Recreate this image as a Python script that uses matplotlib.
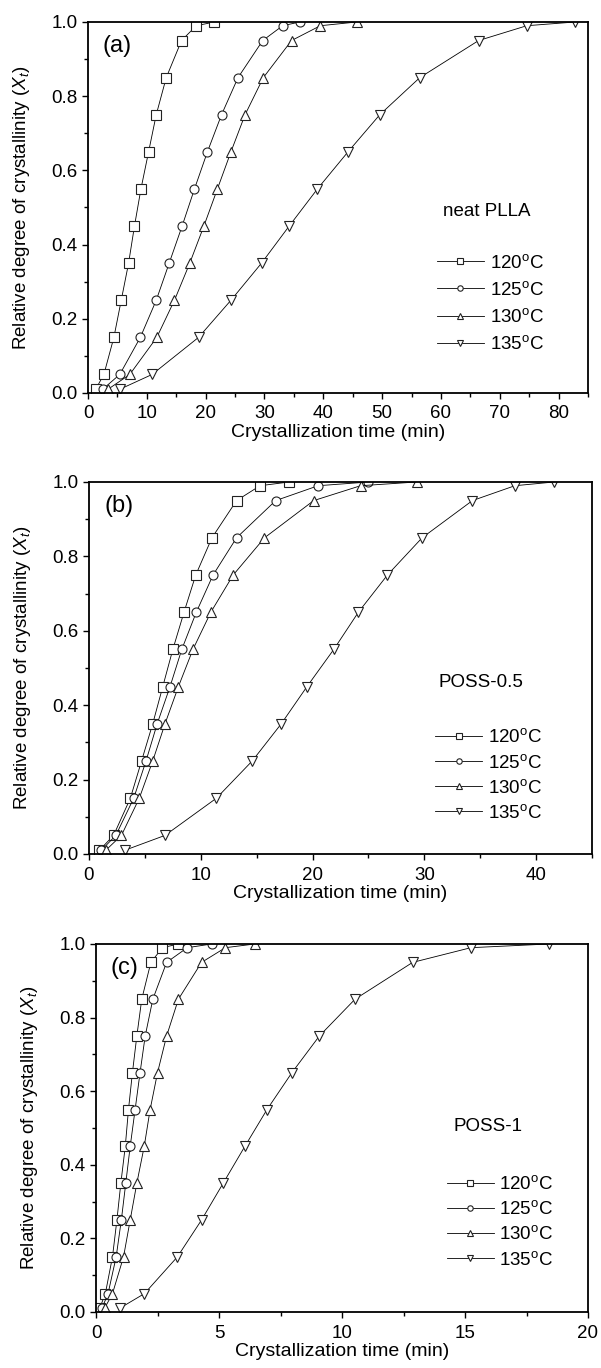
import matplotlib
matplotlib.use("Agg")
import matplotlib.pyplot as plt
from matplotlib.ticker import MultipleLocator, FormatStrFormatter

plt.rcParams["font.family"] = ["Liberation Sans", "DejaVu Sans"]
plt.rcParams["mathtext.fontset"] = "custom"
plt.rcParams["mathtext.rm"] = "Liberation Sans"
plt.rcParams["mathtext.it"] = "Liberation Sans:italic"

# relative crystallinity levels (same for every curve)
xt = [0.01, 0.05, 0.15, 0.25, 0.35, 0.45, 0.55, 0.65, 0.75, 0.85, 0.95, 0.99, 1.0]
temps = ["120$^\\mathregular{o}$C", "125$^\\mathregular{o}$C",
         "130$^\\mathregular{o}$C", "135$^\\mathregular{o}$C"]

# (a) neat PLLA, time in min
a_120 = [1.3, 2.7, 4.4, 5.65, 6.9, 7.9, 9.0, 10.3, 11.6, 13.3, 15.9, 18.4, 21.5]
a_125 = [2.5, 5.4, 8.9, 11.6, 13.8, 16.0, 18.1, 20.3, 22.7, 25.5, 29.7, 33.1, 36.0]
a_130 = [3.4, 7.1, 11.7, 14.7, 17.3, 19.7, 22.0, 24.3, 26.7, 29.8, 34.6, 39.5, 45.7]
a_135 = [5.4, 10.9, 18.8, 24.3, 29.5, 34.2, 39.0, 44.2, 49.6, 56.4, 66.4, 74.6, 82.8]

# (b) POSS-0.5
b_120 = [0.93, 2.2, 3.7, 4.7, 5.7, 6.6, 7.5, 8.5, 9.55, 11.0, 13.2, 15.3, 17.9]
b_125 = [1.1, 2.4, 4.0, 5.1, 6.1, 7.25, 8.3, 9.6, 11.1, 13.2, 16.7, 20.5, 25.0]
b_130 = [1.5, 2.9, 4.5, 5.7, 6.8, 8.0, 9.3, 10.9, 12.9, 15.7, 20.1, 24.3, 29.3]
b_135 = [3.2, 6.8, 11.4, 14.6, 17.2, 19.5, 21.9, 24.1, 26.7, 29.8, 34.3, 38.1, 41.6]

# (c) POSS-1
c_120 = [0.15, 0.38, 0.67, 0.85, 1.01, 1.19, 1.32, 1.48, 1.66, 1.86, 2.23, 2.70, 3.35]
c_125 = [0.24, 0.49, 0.82, 1.03, 1.21, 1.39, 1.59, 1.79, 2.0, 2.31, 2.87, 3.71, 4.70]
c_130 = [0.35, 0.67, 1.12, 1.39, 1.66, 1.96, 2.2, 2.5, 2.87, 3.35, 4.29, 5.26, 6.45]
c_135 = [0.96, 1.97, 3.31, 4.29, 5.17, 6.05, 6.95, 7.96, 9.08, 10.53, 12.87, 15.24, 18.4]

panels = [
    ("(a)", "neat PLLA", [a_120, a_125, a_130, a_135], 85, 10, 5),
    ("(b)", "POSS-0.5", [b_120, b_125, b_130, b_135], 45, 10, 5),
    ("(c)", "POSS-1", [c_120, c_125, c_130, c_135], 20, 5, 2.5),
]
markers = ["s", "o", "^", "v"]

W, H = 601, 1368
fig = plt.figure(figsize=(W / 100, H / 100), dpi=100)
# axes boxes in pixels: left, top, right, bottom
boxes = [(88, 22, 588, 393), (89, 482, 592, 854), (96, 944, 588, 1312)]
# (name x, name y, legend x, legend centre y, row spacing) in axes fraction
annot = [(0.71, 0.488, 0.698, 0.241, 0.49),
         (0.694, 0.46, 0.688, 0.212, 0.38),
         (0.726, 0.503, 0.713, 0.245, 0.38)]

for (tag, name, series, xmax, maj, mnr), (l, t, r, b), (nx, ny, hx, hy, sp) in zip(panels, boxes, annot):
    ax = fig.add_axes([l / W, (H - b) / H, (r - l) / W, (b - t) / H])
    for times, m, lab in zip(series, markers, temps):
        ax.plot(times, xt, "-", color="black", lw=0.6, marker=m, ms=6.5,
                mfc="white", mec="#222222", mew=0.8, label=lab)
    ax.set_xlim(0, xmax)
    ax.set_ylim(0, 1.0)
    ax.xaxis.set_major_locator(MultipleLocator(maj))
    ax.xaxis.set_minor_locator(MultipleLocator(mnr))
    ax.yaxis.set_major_locator(MultipleLocator(0.2))
    ax.yaxis.set_minor_locator(MultipleLocator(0.1))
    ax.yaxis.set_major_formatter(FormatStrFormatter("%.1f"))
    ax.tick_params(which="major", direction="out", length=4, width=1.0, labelsize=13.5)
    ax.tick_params(axis="x", which="major", pad=5)
    ax.tick_params(which="minor", direction="out", length=3, width=1.0)
    for s in ax.spines.values():
        s.set_linewidth(1.3)
    ax.set_xlabel("Crystallization time (min)", fontsize=14, labelpad=1)
    ax.set_ylabel("Relative degree of crystallinity ($X_t$)", fontsize=13.5, labelpad=14)
    ax.text(0.03, 0.965, tag, transform=ax.transAxes, fontsize=17, va="top", ha="left")
    ax.text(nx, ny, name, transform=ax.transAxes, fontsize=13.5, va="center", ha="left")
    ax.legend(loc="center left", bbox_to_anchor=(hx, hy), frameon=False,
              fontsize=13.5, handlelength=2.5, handletextpad=0.3, labelspacing=sp,
              markerscale=0.6, borderpad=0, borderaxespad=0)

fig.savefig("out.png", dpi=100)
